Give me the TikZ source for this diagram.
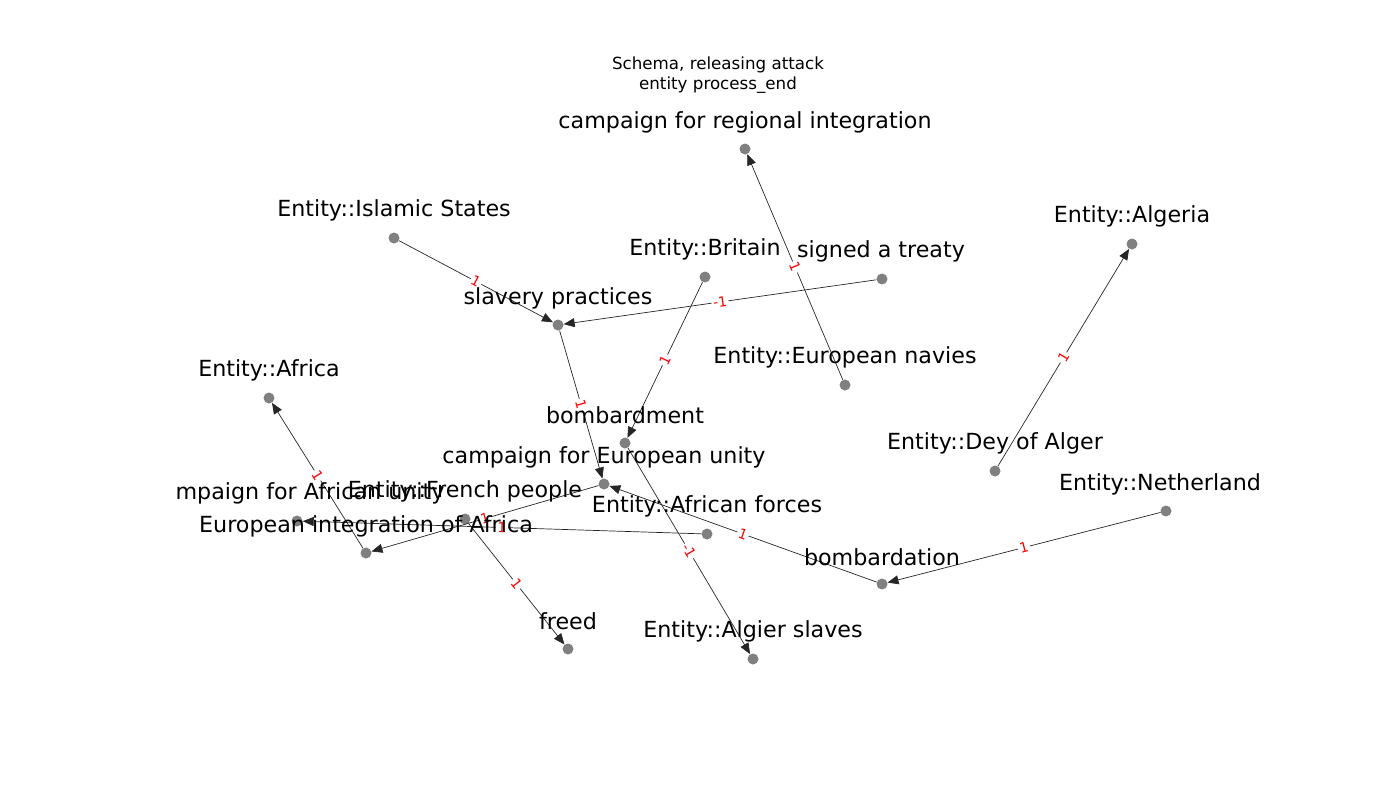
\documentclass[tikz,border=0pt]{standalone}
\usepackage{fontspec}
\setmainfont{DejaVu Sans}
\usetikzlibrary{arrows.meta}
\tikzset{
  dot/.style={circle,fill=gray,draw=none,minimum size=11pt,inner sep=0pt},
  lbl/.style={font=\fontsize{22.2}{26}\selectfont,inner sep=0pt,anchor=center,yshift=-2pt},
  ttl/.style={font=\fontsize{16.7}{19.5}\selectfont,align=center,inner sep=0pt},
  edge/.style={draw=black!85,line width=0.7pt,-{Triangle[length=11pt,width=9pt]}},
  elab/.style={font=\fontsize{13.9}{16}\selectfont,text=red,fill=white,inner sep=1.5pt,sloped,pos=0.5}
}
\begin{document}
\begin{tikzpicture}[x=1pt,y=-1pt]
\useasboundingbox (0,0) rectangle (1400,800);
\node[ttl] (title) at (718,75) {Schema, releasing attack\\entity process\_end};
% dots
\node[dot] (cri) at (745,149) {};
\node[dot] (isl) at (394,238) {};
\node[dot] (bri) at (705,277) {};
\node[dot] (sig) at (882,279) {};
\node[dot] (sla) at (558,325) {};
\node[dot] (nav) at (845,385) {};
\node[dot] (alg) at (1132,244) {};
\node[dot] (afr) at (269,398) {};
\node[dot] (bmt) at (625,443) {};
\node[dot] (dey) at (995,471) {};
\node[dot] (ceu) at (604,484) {};
\node[dot] (net) at (1166,511) {};
\node[dot] (cau) at (297,521) {};
\node[dot] (fre) at (465,519) {};
\node[dot] (eia) at (366,553) {};
\node[dot] (afo) at (707,534) {};
\node[dot] (bmn) at (882,584) {};
\node[dot] (fed) at (568,649) {};
\node[dot] (asl) at (753,659) {};
% edges
\draw[edge] (nav) -- node[elab]{1} (cri);
\draw[edge] (isl) -- node[elab]{1} (sla);
\draw[edge] (sig) -- node[elab]{-1} (sla);
\draw[edge] (bri) -- node[elab]{1} (bmt);
\draw[edge] (sla) -- node[elab]{1} (ceu);
\draw[edge] (dey) -- node[elab]{1} (alg);
\draw[edge] (bmt) -- node[elab]{-1} (asl);
\draw[edge] (eia) -- node[elab]{1} (afr);
\draw[edge] (ceu) -- node[elab]{1} (eia);
\draw[edge] (afo) -- node[elab]{1} (cau);
\draw[edge] (fre) -- node[elab]{1} (fed);
\draw[edge] (bmn) -- node[elab]{1} (ceu);
\draw[edge] (net) -- node[elab]{1} (bmn);
% labels
\node[lbl] (lcri) at (745,120) {campaign for regional integration};
\node[lbl] (lisl) at (394,208) {Entity::Islamic States};
\node[lbl] (lbri) at (705,247) {Entity::Britain};
\node[lbl] (lsig) at (881,249) {signed a treaty};
\node[lbl] (lsla) at (558,296) {slavery practices};
\node[lbl] (lnav) at (845,355) {Entity::European navies};
\node[lbl] (lalg) at (1132,214) {Entity::Algeria};
\node[lbl] (lafr) at (269,368) {Entity::Africa};
\node[lbl] (lbmt) at (625,413) {bombardment};
\node[lbl] (ldey) at (995,441) {Entity::Dey of Alger};
\node[lbl] (lceu) at (604,455) {campaign for European unity};
\node[lbl] (lnet) at (1160,482) {Entity::Netherland};
\node[lbl] (lcau) at (310,491) {mpaign for African unity};
\node[lbl] (lfre) at (465,489) {Entity::French people};
\node[lbl] (leia) at (366,524) {European integration of Africa};
\node[lbl] (lafo) at (707,504) {Entity::African forces};
\node[lbl] (lbmn) at (882,555) {bombardation};
\node[lbl] (lfed) at (568,619) {freed};
\node[lbl] (lasl) at (753,629) {Entity::Algier slaves};
\end{tikzpicture}
\end{document}
